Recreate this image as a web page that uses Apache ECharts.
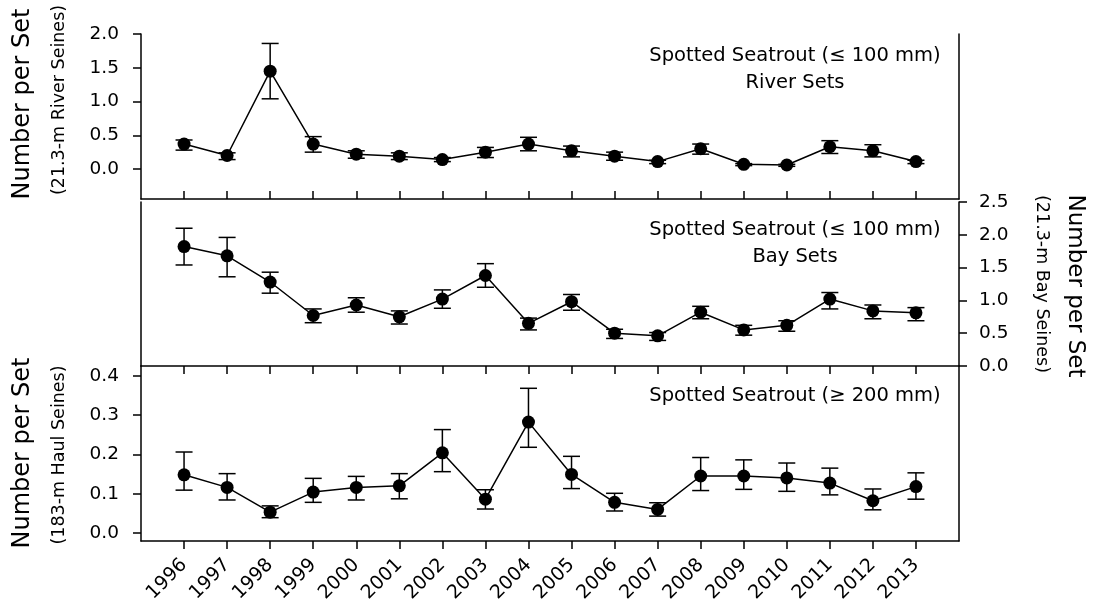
<!DOCTYPE html>
<html><head><meta charset="utf-8">
<script src="https://cdn.jsdelivr.net/npm/echarts@6/dist/echarts.min.js"></script>
<style>html,body{margin:0;padding:0;background:#fff}#c{width:1093px;height:600px}</style>
</head><body><div id="c"></div>
<script>
const years = [1996,1997,1998,1999,2000,2001,2002,2003,2004,2005,2006,2007,2008,2009,2010,2011,2012,2013];

const riverMean  = [0.37,0.20,1.45,0.37,0.22,0.19,0.14,0.25,0.37,0.27,0.19,0.11,0.30,0.07,0.06,0.33,0.27,0.11];
const riverUpper = [0.43,0.24,1.86,0.48,0.27,0.24,0.17,0.32,0.47,0.34,0.25,0.13,0.37,0.08,0.07,0.42,0.36,0.13];
const riverLower = [0.28,0.14,1.04,0.25,0.16,0.14,0.11,0.17,0.27,0.18,0.13,0.08,0.22,0.05,0.04,0.23,0.18,0.08];

const bayMean  = [1.82,1.68,1.28,0.77,0.93,0.75,1.02,1.38,0.65,0.98,0.50,0.46,0.82,0.55,0.62,1.02,0.84,0.81];
const bayUpper = [2.10,1.96,1.43,0.87,1.04,0.84,1.16,1.56,0.73,1.09,0.56,0.51,0.91,0.62,0.69,1.12,0.93,0.89];
const bayLower = [1.54,1.36,1.11,0.66,0.82,0.64,0.88,1.20,0.55,0.85,0.42,0.39,0.72,0.47,0.53,0.87,0.72,0.69];

const haulMean  = [0.148,0.116,0.053,0.104,0.116,0.120,0.204,0.086,0.282,0.149,0.078,0.060,0.145,0.145,0.140,0.127,0.082,0.118];
const haulUpper = [0.206,0.151,0.069,0.139,0.144,0.151,0.263,0.110,0.368,0.195,0.101,0.077,0.192,0.186,0.178,0.165,0.112,0.153];
const haulLower = [0.109,0.084,0.039,0.078,0.084,0.087,0.156,0.061,0.218,0.113,0.056,0.043,0.108,0.111,0.106,0.097,0.059,0.086];

const riverTicks = [0, 0.5, 1.0, 1.5, 2.0];
const bayTicks   = [0, 0.5, 1.0, 1.5, 2.0, 2.5];
const haulTicks  = [0, 0.1, 0.2, 0.3, 0.4];

// category slots: one empty slot on each side of the years
const yearLabels = years.map(String);
const slots = [''].concat(yearLabels, ['']);
const isYearSlot = (i) => i > 0 && i < slots.length - 1;

const FONT = '"DejaVu Sans", sans-serif';
const LW = 1.5;
const lineStyle = {color:'#000', width: LW};

function xAxisCfg(gridIndex, opts) {
  return Object.assign({
    type:'category', gridIndex, data: slots, boundaryGap:false,
    splitLine:{show:false},
    axisLine:{show:true, onZero:false, lineStyle},
    axisTick:{show:true, interval:(i)=>isYearSlot(i), inside:true, length:8, lineStyle},
    axisLabel:{show:false}
  }, opts || {});
}
function yAxisCfg(gridIndex, min, max, ticks, position, showTicks) {
  return {
    type:'value', gridIndex, min, max, position,
    splitLine:{show:false},
    axisLine:{show:true, onZero:false, lineStyle},
    axisTick:{show:showTicks, customValues: ticks, length:8, lineStyle},
    axisLabel:{show:showTicks, customValues: ticks, color:'#000', fontFamily:FONT, fontSize:18.5,
      margin: position === 'left' ? 22 : 20,
      formatter: v => v.toFixed(1)}
  };
}

function errSeries(xi, yi, lo, hi) {
  return {
    type:'custom', xAxisIndex:xi, yAxisIndex:yi, z:2, silent:true,
    data: yearLabels.map((y,i)=>[y, lo[i], hi[i]]),
    encode:{x:0, y:[1,2]},
    renderItem(params, api) {
      const x = api.value(0);
      const a = api.coord([x, api.value(1)]);
      const b = api.coord([x, api.value(2)]);
      const w = 8.5;
      const st = {stroke:'#000', lineWidth:LW};
      return {type:'group', children:[
        {type:'line', shape:{x1:a[0], y1:a[1], x2:b[0], y2:b[1]}, style:st},
        {type:'line', shape:{x1:a[0]-w, y1:a[1], x2:a[0]+w, y2:a[1]}, style:st},
        {type:'line', shape:{x1:b[0]-w, y1:b[1], x2:b[0]+w, y2:b[1]}, style:st}
      ]};
    }
  };
}
function meanSeries(xi, yi, vals) {
  return {
    type:'line', xAxisIndex:xi, yAxisIndex:yi, z:3, silent:true,
    data: yearLabels.map((y,i)=>[y, vals[i]]),
    symbol:'circle', symbolSize:13,
    itemStyle:{color:'#000'},
    lineStyle:{color:'#000', width:LW}
  };
}

// panel geometry
const L = 141, R = 1093 - 959;
const g1 = {top:34, height:165};
const g2 = {top:202, height:164};
const g3 = {top:366, height:175};
const rMin = -0.444, rMax = 2.0;
const bMin = 0, bMax = 2.5;
const hMin = -0.0203, hMax = 0.4247;

function txt(x, y, text, size, rot) {
  return {type:'text', x, y, rotation: rot || 0, silent:true,
    style:{text, fill:'#000', font: size + 'px ' + FONT, textAlign:'center', textVerticalAlign:'middle'}};
}
function gridCfg(g) {
  return {left:L, right:R, top:g.top, height:g.height, containLabel:false, outerBoundsMode:'none'};
}

const chart = echarts.init(document.getElementById('c'), null, {renderer:'canvas'});
chart.setOption({
  animation:false,
  backgroundColor:'#fff',
  grid:[gridCfg(g1), gridCfg(g2), gridCfg(g3)],
  xAxis:[
    xAxisCfg(0, {position:'bottom'}),
    xAxisCfg(1, {show:false}),
    xAxisCfg(2, {position:'bottom',
      axisTick:{show:true, interval:(i)=>isYearSlot(i), inside:false, length:8, lineStyle},
      axisLabel:{show:true, interval:(i)=>isYearSlot(i), rotate:45, color:'#000', fontFamily:FONT, fontSize:19, margin:21}}),
    xAxisCfg(2, {position:'top'})
  ],
  yAxis:[
    yAxisCfg(0, rMin, rMax, riverTicks, 'left', true),
    yAxisCfg(0, rMin, rMax, riverTicks, 'right', false),
    yAxisCfg(1, bMin, bMax, bayTicks, 'left', false),
    yAxisCfg(1, bMin, bMax, bayTicks, 'right', true),
    yAxisCfg(2, hMin, hMax, haulTicks, 'left', true),
    yAxisCfg(2, hMin, hMax, haulTicks, 'right', false)
  ],
  series:[
    errSeries(0, 0, riverLower, riverUpper),
    meanSeries(0, 0, riverMean),
    errSeries(1, 3, bayLower, bayUpper),
    meanSeries(1, 3, bayMean),
    errSeries(2, 4, haulLower, haulUpper),
    meanSeries(2, 4, haulMean)
  ],
  graphic:[
    txt(795, 56, 'Spotted Seatrout (\u2264 100 mm)', 19.5),
    txt(795, 83, 'River Sets', 19.5),
    txt(795, 230, 'Spotted Seatrout (\u2264 100 mm)', 19.5),
    txt(795, 257, 'Bay Sets', 19.5),
    txt(795, 396, 'Spotted Seatrout (\u2265 200 mm)', 19.5),
    txt(23, 104, 'Number per Set', 24, Math.PI/2),
    txt(59, 100, '(21.3-m River Seines)', 17.5, Math.PI/2),
    txt(23, 453, 'Number per Set', 24, Math.PI/2),
    txt(59, 455, '(183-m Haul Seines)', 17.5, Math.PI/2),
    txt(1075, 286, 'Number per Set', 23, -Math.PI/2),
    txt(1042, 284, '(21.3-m Bay Seines)', 17.5, -Math.PI/2)
  ]
});
</script>
</body></html>
